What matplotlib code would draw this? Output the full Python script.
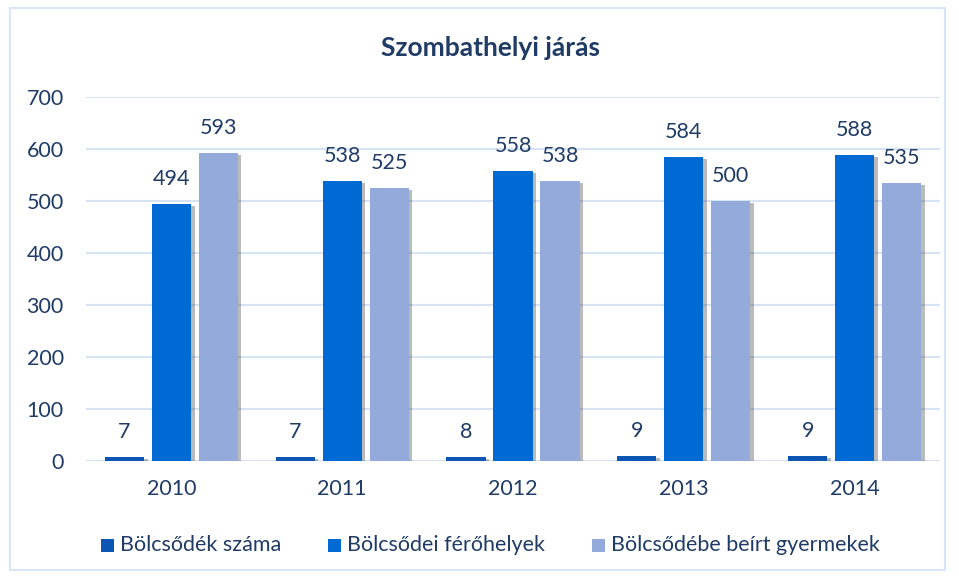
import matplotlib
matplotlib.use("Agg")
import matplotlib.pyplot as plt
import matplotlib.patheffects as pe
from matplotlib.patches import Rectangle
import numpy as np

plt.rcParams['font.family'] = ['Lato', 'DejaVu Sans']

years = ["2010", "2011", "2012", "2013", "2014"]
series_names = ["Bölcsődék száma", "Bölcsődei férőhelyek", "Bölcsődébe beírt gyermekek"]
bolcsodek = [7, 7, 8, 9, 9]
ferohelyek = [494, 538, 558, 584, 588]
beirt = [593, 525, 538, 500, 535]
title = "Szombathelyi járás"
yticks = [0, 100, 200, 300, 400, 500, 600, 700]

colors = ["#0A56B2", "#006AD4", "#93AADB"]
text_color = "#1F3B66"
grid_color = "#D5E3F4"
FS = 15.5

W, H = 959, 577
fig = plt.figure(figsize=(W/100, H/100), dpi=100)

# outer border
fig.patches.append(Rectangle((10/W, 1-570/H), 935/W, 562/H, transform=fig.transFigure,
                             fill=False, edgecolor="#D9E6F6", linewidth=1.5))

ax = fig.add_axes([86/W, 1-461/H, 854/W, 364/H])
x = np.arange(len(years))
width = 0.23
offset = 0.275
data = [bolcsodek, ferohelyek, beirt]
for i, (vals, col) in enumerate(zip(data, colors)):
    bars = ax.bar(x + (i-1)*offset, vals, width, color=col, zorder=3,
                  path_effects=[pe.SimplePatchShadow(offset=(2.5, -1.5), shadow_rgbFace="#555555", alpha=0.4), pe.Normal()])
    for b, v in zip(bars, vals):
        ax.annotate(str(v), (b.get_x()+b.get_width()/2, v), xytext=(0, 18), textcoords="offset points",
                    ha="center", va="center", fontsize=FS, color=text_color)

ax.set_xlim(-0.5, len(years)-0.5)
ax.set_ylim(0, 700)
ax.set_yticks(yticks)
ax.set_yticklabels([str(t) for t in yticks], fontsize=FS, color=text_color)
ax.set_xticks(x)
ax.set_xticklabels(years, fontsize=FS, color=text_color)
ax.tick_params(axis="both", length=0)
ax.tick_params(axis="y", pad=16)
ax.tick_params(axis="x", pad=13)
ax.grid(axis="y", color=grid_color, linewidth=1.5, zorder=0)
for s in ax.spines.values():
    s.set_visible(False)

fig.text(490/W, 1-48/H, title, ha="center", va="center", fontsize=19, fontweight="bold", color=text_color)

# legend
leg_sq = [101, 328, 592]
for sx, col, name in zip(leg_sq, colors, series_names):
    fig.patches.append(Rectangle((sx/W, 1-552/H), 13/W, 13/H, transform=fig.transFigure,
                                 facecolor=col, edgecolor="none"))
    fig.text((sx+19)/W, 1-545/H, name, ha="left", va="center", fontsize=FS, color=text_color)

fig.savefig("out.png", dpi=100)
